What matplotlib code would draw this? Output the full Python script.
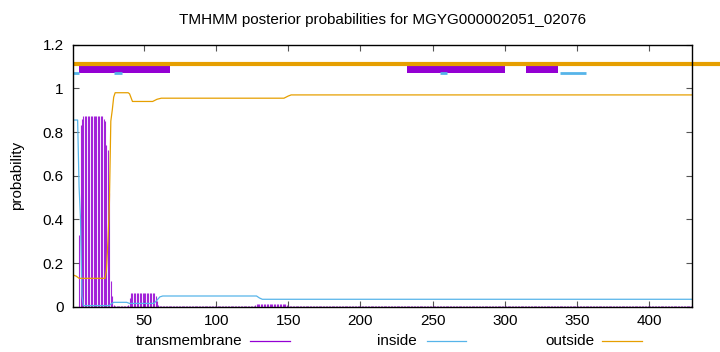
import numpy as np
import matplotlib
matplotlib.use("Agg")
import matplotlib.pyplot as plt
from matplotlib.lines import Line2D

plt.rcParams['font.family'] = ['Liberation Sans', 'DejaVu Sans']

# TMHMM posterior probabilities, one value per residue (1..430)
tm_prob = ([0.0] * 4
           + [0.33, 0.83, 0.86]
           + [0.872] * 14
           + [0.86, 0.85, 0.74, 0.72, 0.52, 0.12, 0.05, 0.01]
           + [0.003] * 9
           + [0.01, 0.04]
           + [0.062] * 17
           + [0.05, 0.025, 0.008]
           + [0.002] * 66
           + [0.006]
           + [0.012] * 21
           + [0.006]
           + [0.001] * 281)
residues = np.arange(1, len(tm_prob) + 1)

inside_pos = [1, 4, 5, 6, 7, 8, 26, 27, 29, 38, 40, 57, 59, 61, 63, 128, 130, 132, 430]
inside_val = [0.855, 0.855, 0.55, 0.40, 0.05, 0.005, 0.005, 0.012, 0.02, 0.02,
              0.015, 0.015, 0.03, 0.045, 0.049, 0.049, 0.04, 0.034, 0.034]

outside_pos = [1, 3, 5, 22, 23, 24, 25, 26, 27, 28, 29, 30, 39, 40, 42, 56, 59, 62,
               147, 150, 152, 430]
outside_val = [0.145, 0.14, 0.13, 0.13, 0.13, 0.17, 0.30, 0.47, 0.85, 0.90, 0.96,
               0.98, 0.98, 0.975, 0.94, 0.94, 0.95, 0.955, 0.955, 0.965, 0.97, 0.97]

# predicted topology drawn above the curves
tm_segments = [(5, 68), (232, 300), (315, 337)]
inside_segments = [(1, 5), (29, 35), (255, 260), (338, 356)]
outside_segments = [(1, 449.5)]

c_tm = '#9400d3'
c_in = '#56b4e9'
c_out = '#e69f00'

fig = plt.figure(figsize=(7.2, 3.52), dpi=100)
ax = fig.add_axes([73.3 / 720, 1 - 306.7 / 352, 619 / 720, 262 / 352])

ax.vlines(residues, 0, tm_prob, color=c_tm, lw=0.8, alpha=0.85)
ax.plot(inside_pos, inside_val, color=c_in, lw=0.9)
ax.plot(outside_pos, outside_val, color=c_out, lw=0.9)

for a, b in tm_segments:
    ax.fill_between([a, b], 1.069, 1.103, color=c_tm, lw=0)
for a, b in inside_segments:
    ax.plot([a, b], [1.072, 1.072], color=c_in, lw=2.0, solid_capstyle='butt')
for a, b in outside_segments:
    ax.plot([a, b], [1.112, 1.112], color=c_out, lw=3.0, solid_capstyle='butt',
            clip_on=False)

ax.set_xlim(1, 430)
ax.set_ylim(0, 1.2)
ax.set_xticks([50, 100, 150, 200, 250, 300, 350, 400])
ax.set_yticks([0, 0.2, 0.4, 0.6, 0.8, 1.0, 1.2])
ax.set_yticklabels(['0', '0.2', '0.4', '0.6', '0.8', '1', '1.2'])
ax.tick_params(direction='in', length=4, width=0.8, top=True, right=True,
               labelsize=11, color='#555555')
ax.tick_params(axis='y', pad=7)
ax.tick_params(axis='x', pad=5)
for s in ax.spines.values():
    s.set_linewidth(1.0)

fig.text(382.8 / 720, 1 - 20 / 352, 'TMHMM posterior probabilities for MGYG000002051_02076',
         ha='center', va='center', fontsize=11)
fig.text(17 / 720, 1 - 175.7 / 352, 'probability', rotation=90,
         ha='center', va='center', fontsize=11)

# legend row at the bottom
ly = 1 - 341 / 352
for label, col, xt, x0, x1 in [('transmembrane', c_tm, 242, 250, 290),
                               ('inside', c_in, 417, 427, 466),
                               ('outside', c_out, 594, 602, 642)]:
    fig.text(xt / 720, ly, label, ha='right', va='center', fontsize=11)
    fig.add_artist(Line2D([x0 / 720, x1 / 720], [ly, ly], color=col, lw=0.9))

fig.savefig('out.png', dpi=100)
